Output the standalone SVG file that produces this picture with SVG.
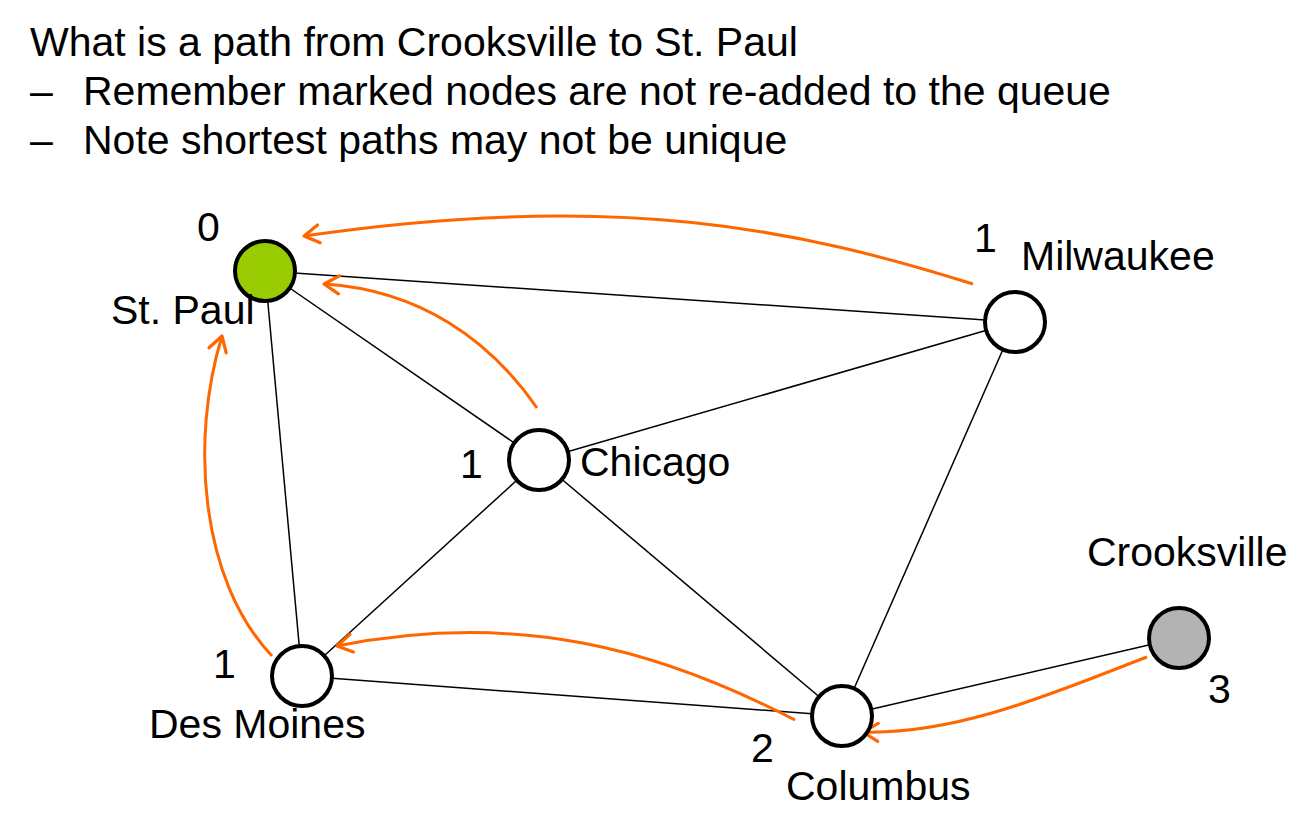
<svg xmlns="http://www.w3.org/2000/svg" width="1316" height="837" viewBox="0 0 1316 837">
<defs>
<style>
text{font-family:"Liberation Sans",Arial,sans-serif;font-size:41px;fill:#000}
.edge{stroke:#000;stroke-width:1.5;fill:none}
.arr{stroke:#FF6600;stroke-width:3;fill:none;marker-end:url(#ah)}
.node{stroke:#000;stroke-width:4;fill:#fff}
</style>
<marker id="ah" viewBox="0 0 12 12" refX="10.5" refY="6" markerWidth="8" markerHeight="8" markerUnits="strokeWidth" orient="auto">
<path d="M3,1.5 L10.5,6 L3,10.5" fill="none" stroke="#FF6600" stroke-width="1.6" stroke-linecap="round" stroke-linejoin="round"/>
</marker>
</defs>
<rect width="1316" height="837" fill="#fff"/>
<g id="header">
<text x="30" y="56">What is a path from Crooksville to St. Paul</text>
<text x="30" y="105">–</text><text x="83" y="105">Remember marked nodes are not re-added to the queue</text>
<text x="30" y="154">–</text><text x="83" y="154">Note shortest paths may not be unique</text>
</g>
<g id="connectors">
<line class="edge" x1="265" y1="271" x2="1015" y2="322"/>
<line class="edge" x1="265" y1="271" x2="539" y2="460"/>
<line class="edge" x1="265" y1="271" x2="302" y2="676"/>
<line class="edge" x1="539" y1="460" x2="1015" y2="322"/>
<line class="edge" x1="539" y1="460" x2="302" y2="676"/>
<line class="edge" x1="539" y1="460" x2="842" y2="716"/>
<line class="edge" x1="302" y1="676" x2="842" y2="716"/>
<line class="edge" x1="1015" y1="322" x2="842" y2="716"/>
<line class="edge" x1="842" y1="716" x2="1179" y2="638"/>
<path class="arr" d="M973,284 C800,230 620,190 304,236"/>
<path class="arr" d="M537,408 C490,340 420,290 324,284"/>
<path class="arr" d="M272,656 C200,580 190,440 222,336"/>
<path class="arr" d="M795,720 C660,650 520,610 337,646"/>
<path class="arr" d="M1147,657 C1060,690 960,735 863,732"/>
</g>
<g id="stpaul"><circle class="node" cx="265" cy="271" r="30" style="fill:#99CC00"/><text x="197" y="241">0</text><text x="111" y="324">St. Paul</text></g>
<g id="milwaukee"><circle class="node" cx="1015" cy="322" r="30"/><text x="974" y="252">1</text><text x="1021" y="270">Milwaukee</text></g>
<g id="chicago"><circle class="node" cx="539" cy="460" r="30"/><text x="460" y="478">1</text><text x="580" y="476">Chicago</text></g>
<g id="desmoines"><circle class="node" cx="302" cy="676" r="30"/><text x="213" y="678">1</text><text x="149" y="738">Des Moines</text></g>
<g id="columbus"><circle class="node" cx="842" cy="716" r="30"/><text x="751" y="762">2</text><text x="786" y="800">Columbus</text></g>
<g id="crooksville"><circle class="node" cx="1179" cy="638" r="30" style="fill:#B3B3B3"/><text x="1087" y="566">Crooksville</text><text x="1208" y="703">3</text></g>
</svg>
